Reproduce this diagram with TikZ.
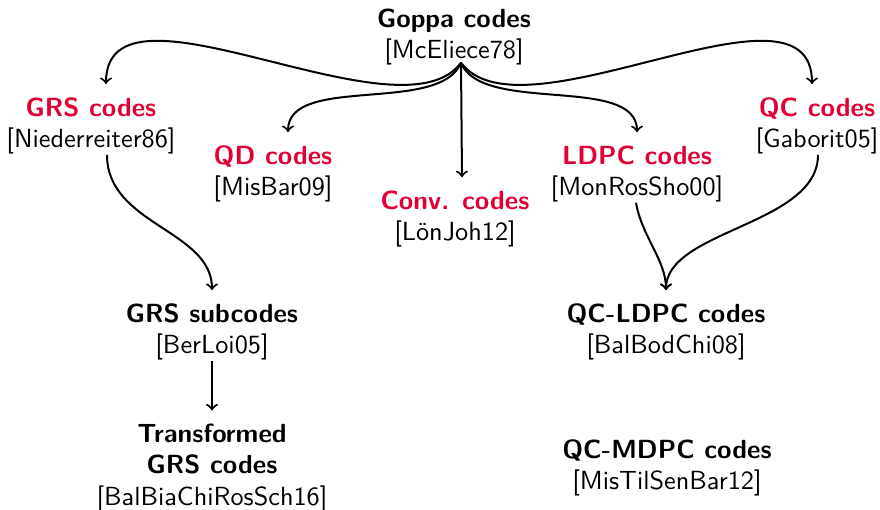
\documentclass[tikz,border=0pt]{standalone}
\usepackage{fontspec}
\usetikzlibrary{calc}
\definecolor{hot}{RGB}{224,0,50}
\newcommand\bibref[1]{[#1]}
\newcommand\plaintitle[1]{\textbf{#1}}
\newcommand\hottitle[1]{\textcolor{hot}{\bfseries #1}}
\begin{document}
\begin{tikzpicture}[x=0.4pt,y=0.4pt,
  lbl/.style={align=center,inner sep=0pt,
    font=\fontsize{10.5}{12.6}\selectfont\sffamily},
  arr/.style={->,thick}]
\useasboundingbox (0,0) rectangle (880,510);

% code families
\node[lbl] (goppa)  at (454,473) {\plaintitle{Goppa codes}\\\bibref{McEliece78}};
\node[lbl] (grs)    at (91,384)  {\hottitle{GRS codes}\\\bibref{Niederreiter86}};
\node[lbl] (qd)     at (273,336) {\hottitle{QD codes}\\\bibref{MisBar09}};
\node[lbl] (conv)   at (455,291) {\hottitle{Conv. codes}\\\bibref{LönJoh12}};
\node[lbl] (ldpc)   at (637,336) {\hottitle{LDPC codes}\\\bibref{MonRosSho00}};
\node[lbl] (qc)     at (817,384) {\hottitle{QC codes}\\\bibref{Gaborit05}};
\node[lbl] (grssub) at (212,178) {\plaintitle{GRS subcodes}\\\bibref{BerLoi05}};
\node[lbl] (qcldpc) at (666,178) {\plaintitle{QC-LDPC codes}\\\bibref{BalBodChi08}};
\node[lbl] (trans)  at (212,42)  {\plaintitle{Transformed}\\\plaintitle{GRS codes}\\\bibref{BalBiaChiRosSch16}};
\node[lbl] (mdpc)   at (667,42)  {\plaintitle{QC-MDPC codes}\\\bibref{MisTilSenBar12}};

% common source point below the Goppa reference
\coordinate (src) at ($(goppa.south)+(7,3)$);

% connectors from Goppa codes
\draw[arr] (src) to[out=233.4,in=90,out distance=40.8pt,in distance=48pt]
  ($(grs.north)+(15,13)$);
\draw[arr] (src) to[out=248,in=90,out distance=22.4pt,in distance=23.2pt]
  ($(qd.north)+(15,13)$);
\draw[arr] (src) -- ($(conv.north)+(7,13)$);
\draw[arr] (src) to[out=292,in=90,out distance=22.4pt,in distance=23.2pt]
  ($(ldpc.north)+(0,13)$);
\draw[arr] (src) to[out=306.6,in=90,out distance=40.8pt,in distance=48pt]
  ($(qc.north)+(-5,13)$);

% derived families
\draw[arr] ($(grs.south)+(16,0)$) to[out=270,in=90,out distance=28pt,in distance=24pt]
  ($(grssub.north)+(0,13)$);
\draw[arr] ($(ldpc.south)+(-1,0)$) to[out=280,in=90,out distance=14pt,in distance=12pt]
  ($(qcldpc.north)+(0,13)$);
\draw[arr] ($(qc.south)+(1,0)$) to[out=270,in=90,out distance=28pt,in distance=24pt]
  ($(qcldpc.north)+(0,13)$);
\draw[arr] (grssub.south) -- ($(trans.north)+(0,13)$);
\end{tikzpicture}
\end{document}
